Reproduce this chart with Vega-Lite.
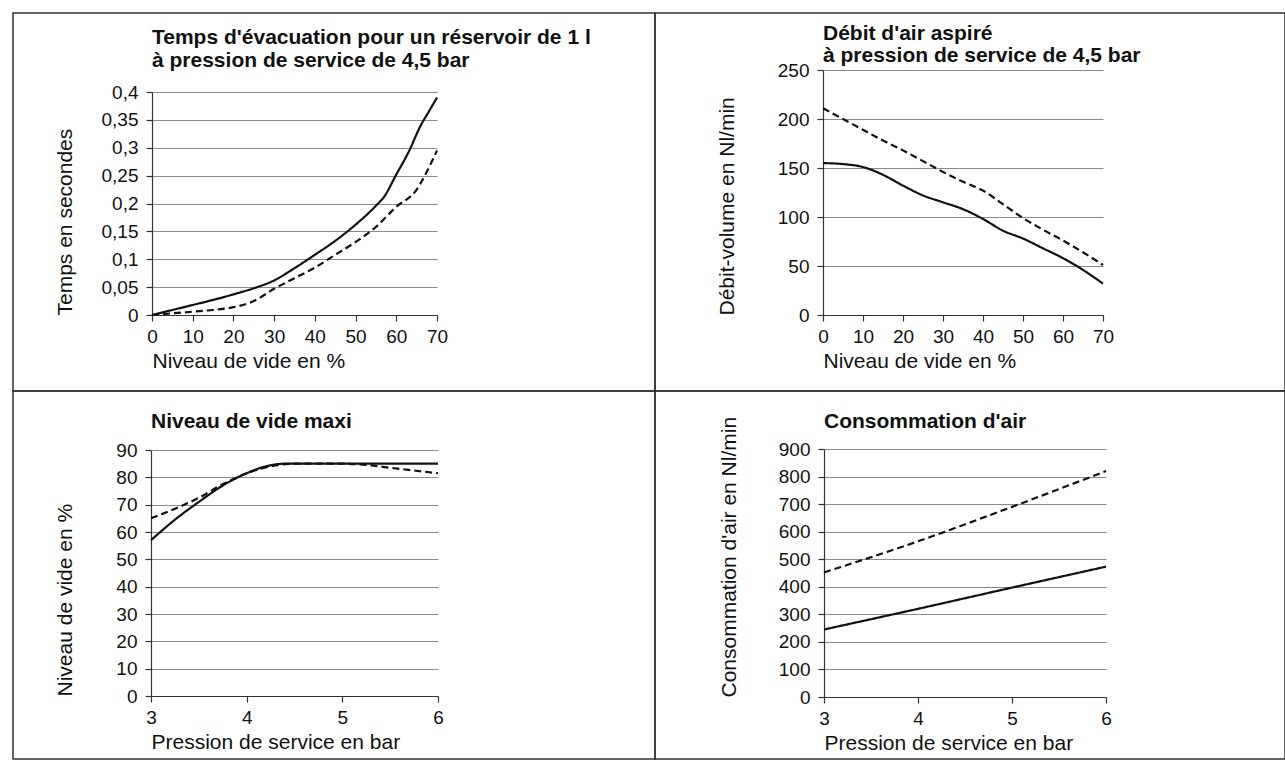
{
  "$schema": "https://vega.github.io/schema/vega-lite/v6.json",
  "background": "white",
  "padding": {"left": 12, "top": 12, "right": 0, "bottom": 0},
  "columns": 2,
  "spacing": 0,
  "bounds": "flush",
  "datasets": {
    "p1": [
      {"x": 0, "y": 0, "serie": "continu"}, {"x": 5, "y": 0.009, "serie": "continu"}, {"x": 10, "y": 0.018, "serie": "continu"}, {"x": 15, "y": 0.027, "serie": "continu"}, {"x": 20, "y": 0.037, "serie": "continu"}, {"x": 25, "y": 0.048, "serie": "continu"}, {"x": 30, "y": 0.062, "serie": "continu"}, {"x": 35, "y": 0.084, "serie": "continu"}, {"x": 40, "y": 0.108, "serie": "continu"}, {"x": 45, "y": 0.133, "serie": "continu"}, {"x": 50, "y": 0.162, "serie": "continu"}, {"x": 55, "y": 0.196, "serie": "continu"}, {"x": 57, "y": 0.212, "serie": "continu"}, {"x": 60, "y": 0.252, "serie": "continu"}, {"x": 63, "y": 0.292, "serie": "continu"}, {"x": 66, "y": 0.34, "serie": "continu"}, {"x": 68, "y": 0.365, "serie": "continu"}, {"x": 70, "y": 0.39, "serie": "continu"},
      {"x": 0, "y": 0, "serie": "tirets"}, {"x": 5, "y": 0.003, "serie": "tirets"}, {"x": 10, "y": 0.006, "serie": "tirets"}, {"x": 15, "y": 0.009, "serie": "tirets"}, {"x": 20, "y": 0.014, "serie": "tirets"}, {"x": 25, "y": 0.025, "serie": "tirets"}, {"x": 30, "y": 0.047, "serie": "tirets"}, {"x": 35, "y": 0.066, "serie": "tirets"}, {"x": 40, "y": 0.085, "serie": "tirets"}, {"x": 45, "y": 0.108, "serie": "tirets"}, {"x": 50, "y": 0.131, "serie": "tirets"}, {"x": 55, "y": 0.158, "serie": "tirets"}, {"x": 60, "y": 0.194, "serie": "tirets"}, {"x": 65, "y": 0.225, "serie": "tirets"}, {"x": 67, "y": 0.25, "serie": "tirets"}, {"x": 70, "y": 0.295, "serie": "tirets"}
    ],
    "p2": [
      {"x": 0, "y": 155, "serie": "continu"}, {"x": 5, "y": 154, "serie": "continu"}, {"x": 10, "y": 151, "serie": "continu"}, {"x": 15, "y": 143, "serie": "continu"}, {"x": 20, "y": 132, "serie": "continu"}, {"x": 25, "y": 122, "serie": "continu"}, {"x": 30, "y": 115, "serie": "continu"}, {"x": 35, "y": 108, "serie": "continu"}, {"x": 40, "y": 98, "serie": "continu"}, {"x": 45, "y": 86, "serie": "continu"}, {"x": 50, "y": 78, "serie": "continu"}, {"x": 55, "y": 68, "serie": "continu"}, {"x": 60, "y": 58, "serie": "continu"}, {"x": 65, "y": 46, "serie": "continu"}, {"x": 70, "y": 32, "serie": "continu"},
      {"x": 0, "y": 211, "serie": "tirets"}, {"x": 5, "y": 200, "serie": "tirets"}, {"x": 10, "y": 189, "serie": "tirets"}, {"x": 15, "y": 178, "serie": "tirets"}, {"x": 20, "y": 168, "serie": "tirets"}, {"x": 25, "y": 157, "serie": "tirets"}, {"x": 30, "y": 146, "serie": "tirets"}, {"x": 35, "y": 136, "serie": "tirets"}, {"x": 40, "y": 127, "serie": "tirets"}, {"x": 45, "y": 113, "serie": "tirets"}, {"x": 50, "y": 99, "serie": "tirets"}, {"x": 55, "y": 87, "serie": "tirets"}, {"x": 60, "y": 76, "serie": "tirets"}, {"x": 65, "y": 64, "serie": "tirets"}, {"x": 70, "y": 51, "serie": "tirets"}
    ],
    "p3": [
      {"x": 3, "y": 57, "serie": "continu"}, {"x": 3.25, "y": 64.5, "serie": "continu"}, {"x": 3.5, "y": 71, "serie": "continu"}, {"x": 3.75, "y": 77, "serie": "continu"}, {"x": 4, "y": 81.5, "serie": "continu"}, {"x": 4.2, "y": 84, "serie": "continu"}, {"x": 4.4, "y": 85, "serie": "continu"}, {"x": 5, "y": 85, "serie": "continu"}, {"x": 5.5, "y": 85, "serie": "continu"}, {"x": 6, "y": 85, "serie": "continu"},
      {"x": 3, "y": 65, "serie": "tirets"}, {"x": 3.25, "y": 68.5, "serie": "tirets"}, {"x": 3.5, "y": 72.5, "serie": "tirets"}, {"x": 3.75, "y": 77.5, "serie": "tirets"}, {"x": 4, "y": 81.5, "serie": "tirets"}, {"x": 4.25, "y": 84, "serie": "tirets"}, {"x": 4.5, "y": 85, "serie": "tirets"}, {"x": 5, "y": 85, "serie": "tirets"}, {"x": 5.25, "y": 84.5, "serie": "tirets"}, {"x": 5.5, "y": 83.5, "serie": "tirets"}, {"x": 5.75, "y": 82.5, "serie": "tirets"}, {"x": 6, "y": 81.5, "serie": "tirets"}
    ],
    "p4": [
      {"x": 3, "y": 245, "serie": "continu"}, {"x": 4, "y": 320, "serie": "continu"}, {"x": 5, "y": 397, "serie": "continu"}, {"x": 6, "y": 473, "serie": "continu"},
      {"x": 3, "y": 452, "serie": "tirets"}, {"x": 4, "y": 565, "serie": "tirets"}, {"x": 5, "y": 690, "serie": "tirets"}, {"x": 6, "y": 820, "serie": "tirets"}
    ]
  },
  "concat": [
    {
      "width": 642, "height": 378,
      "view": {"stroke": "#333", "strokeWidth": 1.5},
      "title": {"text": ["Temps d'évacuation pour un réservoir de 1 l", "à pression de service de 4,5 bar"], "offset": -58, "dx": 139, "lineHeight": 23},
      "data": {"name": "p1"},
      "mark": {"type": "line", "interpolate": "monotone", "strokeWidth": 2.2, "color": "#111"},
      "encoding": {
        "x": {"field": "x", "type": "quantitative", "scale": {"domain": [0, 70], "range": [139, 424], "nice": false},
              "axis": {"title": "Niveau de vide en %", "values": [0, 10, 20, 30, 40, 50, 60, 70], "offset": -76, "titleX": 139}},
        "y": {"field": "y", "type": "quantitative", "scale": {"domain": [0, 0.4], "range": [302, 79], "nice": false},
              "axis": {"title": "Temps en secondes", "values": [0, 0.05, 0.1, 0.15, 0.2, 0.25, 0.3, 0.35, 0.4], "format": ".2~f", "offset": -139, "titleX": -77, "titleY": 302}},
        "strokeDash": {"field": "serie", "type": "nominal", "scale": {"domain": ["continu", "tirets"], "range": [[1, 0], [7, 4]]}, "legend": null}
      }
    },
    {
      "width": 630, "height": 378,
      "view": {"stroke": "#333", "strokeWidth": 1.5},
      "title": {"text": ["Débit d'air aspiré", "à pression de service de 4,5 bar"], "offset": -53, "dx": 168, "lineHeight": 22},
      "data": {"name": "p2"},
      "mark": {"type": "line", "interpolate": "monotone", "strokeWidth": 2.2, "color": "#111"},
      "encoding": {
        "x": {"field": "x", "type": "quantitative", "scale": {"domain": [0, 70], "range": [168, 448], "nice": false},
              "axis": {"title": "Niveau de vide en %", "values": [0, 10, 20, 30, 40, 50, 60, 70], "offset": -76, "titleX": 168}},
        "y": {"field": "y", "type": "quantitative", "scale": {"domain": [0, 250], "range": [302, 57], "nice": false},
              "axis": {"title": "Débit-volume en Nl/min", "values": [0, 50, 100, 150, 200, 250], "offset": -168, "titleX": -86, "titleY": 302}},
        "strokeDash": {"field": "serie", "type": "nominal", "scale": {"domain": ["continu", "tirets"], "range": [[1, 0], [7, 4]]}, "legend": null}
      }
    },
    {
      "width": 642, "height": 368,
      "view": {"stroke": "#333", "strokeWidth": 1.5},
      "title": {"text": "Niveau de vide maxi", "offset": -41, "dx": 138},
      "data": {"name": "p3"},
      "mark": {"type": "line", "interpolate": "monotone", "strokeWidth": 2.2, "color": "#111"},
      "encoding": {
        "x": {"field": "x", "type": "quantitative", "scale": {"domain": [3, 6], "range": [138, 425], "nice": false, "zero": false},
              "axis": {"title": "Pression de service en bar", "values": [3, 4, 5, 6], "offset": -63, "titleX": 138}},
        "y": {"field": "y", "type": "quantitative", "scale": {"domain": [0, 90], "range": [305, 59], "nice": false},
              "axis": {"title": "Niveau de vide en %", "values": [0, 10, 20, 30, 40, 50, 60, 70, 80, 90], "offset": -138, "titleX": -76, "titleY": 305}},
        "strokeDash": {"field": "serie", "type": "nominal", "scale": {"domain": ["continu", "tirets"], "range": [[1, 0], [7, 4]]}, "legend": null}
      }
    },
    {
      "width": 630, "height": 368,
      "view": {"stroke": "#333", "strokeWidth": 1.5},
      "title": {"text": "Consommation d'air", "offset": -41, "dx": 169},
      "data": {"name": "p4"},
      "mark": {"type": "line", "interpolate": "monotone", "strokeWidth": 2.2, "color": "#111"},
      "encoding": {
        "x": {"field": "x", "type": "quantitative", "scale": {"domain": [3, 6], "range": [169, 451], "nice": false, "zero": false},
              "axis": {"title": "Pression de service en bar", "values": [3, 4, 5, 6], "offset": -62, "titleX": 169}},
        "y": {"field": "y", "type": "quantitative", "scale": {"domain": [0, 900], "range": [306, 58], "nice": false},
              "axis": {"title": "Consommation d'air en Nl/min", "values": [0, 100, 200, 300, 400, 500, 600, 700, 800, 900], "offset": -169, "titleX": -85, "titleY": 306}},
        "strokeDash": {"field": "serie", "type": "nominal", "scale": {"domain": ["continu", "tirets"], "range": [[1, 0], [7, 4]]}, "legend": null}
      }
    }
  ],
  "config": {
    "locale": {"number": {"decimal": ",", "thousands": " ", "grouping": [3], "currency": ["", " €"]}},
    "font": "Liberation Sans",
    "axis": {"labelFont": "Liberation Sans", "labelFontSize": 19, "labelColor": "#111", "titleFont": "Liberation Sans", "titleFontSize": 21, "titleFontWeight": "normal", "titleColor": "#111", "domainColor": "#333", "domainWidth": 1.2, "tickColor": "#333", "tickSize": 6, "tickWidth": 1.2, "gridColor": "#8a8a8a", "gridWidth": 1, "labelOverlap": false, "labelFlush": false},
    "axisY": {"grid": true, "labelPadding": 8, "titleAngle": 270, "titleAlign": "left", "titleBaseline": "bottom"},
    "axisX": {"grid": false, "labelPadding": 6, "titleAnchor": "start", "titleAlign": "left", "titlePadding": 4},
    "title": {"font": "Liberation Sans", "fontSize": 21, "fontWeight": "bold", "color": "#111", "anchor": "start", "frame": "group", "baseline": "alphabetic"}
  }
}
